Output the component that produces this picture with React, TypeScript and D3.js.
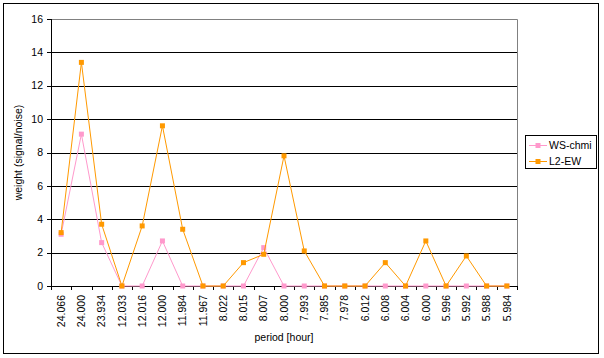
// Periodogram weights: WS-chmi vs L2-EW, Excel-style line chart.
import * as d3 from "d3";

const periods = [
  "24.066", "24.000", "23.934",
  "12.033", "12.016", "12.000", "11.984", "11.967",
  "8.022", "8.015", "8.007", "8.000", "7.993", "7.985", "7.978",
  "6.012", "6.008", "6.004", "6.000", "5.996", "5.992", "5.988", "5.984",
];
const wsChmi = [3.1, 9.1, 2.6, 0, 0, 2.7, 0, 0, 0, 0, 2.3, 0, 0, 0, 0, 0, 0, 0, 0, 0, 0, 0, 0];
const l2Ew = [3.2, 13.4, 3.7, 0, 3.6, 9.6, 3.4, 0, 0, 1.4, 1.9, 7.8, 2.1, 0, 0, 0, 1.4, 0, 2.7, 0, 1.8, 0, 0];
const yTicks = [0, 2, 4, 6, 8, 10, 12, 14, 16];

const SERIES = [
  { name: "WS-chmi", values: wsChmi, color: "#ff99cc" },
  { name: "L2-EW", values: l2Ew, color: "#ff9900" },
];

const W = 604;
const H = 358;
const plot = { left: 51, right: 517, top: 19, bottom: 286 };
const FONT = "Arial, 'Liberation Sans', sans-serif";

export default function App() {
  const x = d3.scaleBand<string>().domain(periods).range([plot.left, plot.right]);
  const y = d3.scaleLinear().domain([0, 16]).range([plot.bottom, plot.top]);
  const cx = (i: number) => (x(periods[i]) ?? 0) + x.bandwidth() / 2;
  const line = d3
    .line<number>()
    .x((_, i) => cx(i))
    .y((d) => y(d));

  const bounds = [...periods.map((p) => x(p) ?? 0), plot.right];

  return (
    <svg
      width={W}
      height={H}
      style={{ position: "absolute", left: 0, top: 0, background: "#fff" }}
      fontFamily={FONT}
    >
      {/* chart area border */}
      <rect x={3.5} y={3.5} width={595} height={350} fill="#fff" stroke="#000" strokeWidth={1} />

      {/* gridlines */}
      {yTicks.slice(1, -1).map((t) => (
        <line key={t} x1={plot.left} x2={plot.right} y1={Math.round(y(t)) + 0.5} y2={Math.round(y(t)) + 0.5} stroke="#000" />
      ))}
      {/* plot area border (top/right grey) */}
      <path
        d={`M${plot.left},${plot.top + 0.5}H${plot.right + 0.5}V${plot.bottom}`}
        fill="none"
        stroke="#808080"
      />

      {/* y axis */}
      <line x1={plot.left + 0.5} x2={plot.left + 0.5} y1={plot.top} y2={plot.bottom} stroke="#000" />
      {yTicks.map((t) => (
        <g key={t}>
          <line x1={plot.left - 4} x2={plot.left} y1={Math.round(y(t)) + 0.5} y2={Math.round(y(t)) + 0.5} stroke="#000" />
          <text x={plot.left - 8} y={y(t)} dy="0.35em" textAnchor="end" fontSize={10.5}>
            {t}
          </text>
        </g>
      ))}

      {/* x axis */}
      <line x1={plot.left} x2={plot.right + 1} y1={Math.round(y(0)) + 0.5} y2={Math.round(y(0)) + 0.5} stroke="#000" />
      {bounds.map((b, i) => (
        <line key={i} x1={Math.round(b) + 0.5} x2={Math.round(b) + 0.5} y1={plot.bottom} y2={plot.bottom + 4} stroke="#000" />
      ))}
      {periods.map((p, i) => (
        <text
          key={p + i}
          transform={`translate(${cx(i)},${plot.bottom + 9}) rotate(-90)`}
          textAnchor="end"
          dy="0.35em"
          fontSize={10.5}
        >
          {p}
        </text>
      ))}

      {/* series */}
      {SERIES.map((s) => (
        <g key={s.name}>
          <path d={line(s.values) ?? ""} fill="none" stroke={s.color} strokeWidth={1} />
          {s.values.map((v, i) => (
            <rect key={i} x={cx(i) - 2.5} y={y(v) - 2.5} width={5} height={5} fill={s.color} />
          ))}
        </g>
      ))}

      {/* axis titles */}
      <text transform={`translate(18,${(plot.top + plot.bottom) / 2}) rotate(-90)`} textAnchor="middle" dy="0.35em" fontSize={10.5}>
        weight  (signal/noise)
      </text>
      <text x={284} y={341} textAnchor="middle" fontSize={10.5}>
        period [hour]
      </text>

      {/* legend */}
      <rect x={525.5} y={135.5} width={71} height={33} fill="#fff" stroke="#000" />
      {SERIES.map((s, i) => {
        const ly = 145 + i * 16;
        return (
          <g key={s.name}>
            <line x1={529} x2={547} y1={ly + 0.5} y2={ly + 0.5} stroke={s.color} />
            <rect x={535.5} y={ly - 2} width={5} height={5} fill={s.color} />
            <text x={549} y={ly} dy="0.35em" fontSize={10.5}>
              {s.name}
            </text>
          </g>
        );
      })}
    </svg>
  );
}
